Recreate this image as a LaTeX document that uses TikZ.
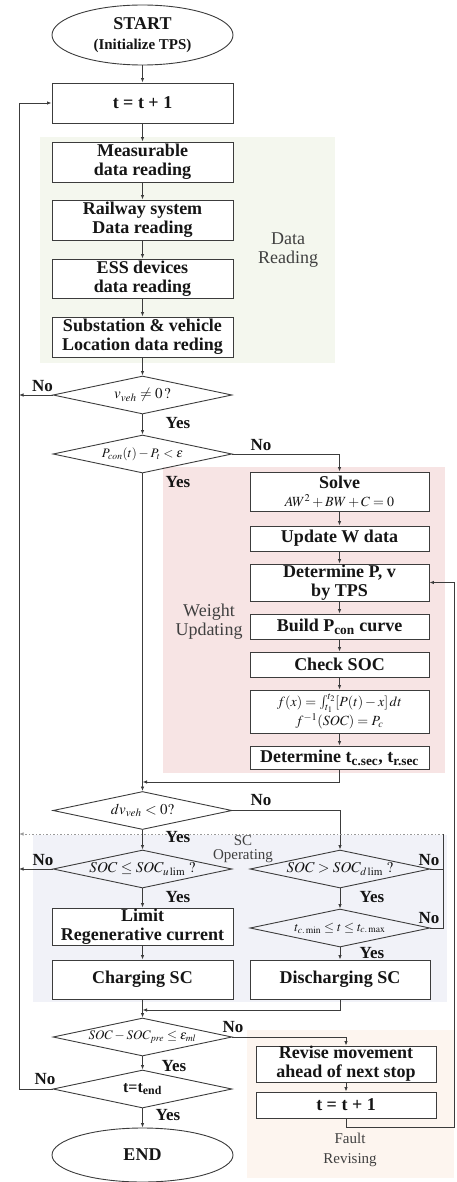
\documentclass[tikz,border=0pt]{standalone}
\usepackage{mathptmx}
\usepackage{fontspec}
\setmainfont{Liberation Serif}
\usetikzlibrary{shapes.geometric,arrows.meta,calc}
\definecolor{linec}{HTML}{3C3C3C}
\definecolor{txt}{HTML}{151515}
\definecolor{greenbg}{HTML}{F4F7EE}
\definecolor{pinkbg}{HTML}{F7E4E4}
\definecolor{lavbg}{HTML}{F1F2F8}
\definecolor{peachbg}{HTML}{FDF5EF}
\definecolor{grouptxt}{HTML}{404040}
\definecolor{dotc}{HTML}{9A9A9A}

\begin{document}
\begin{tikzpicture}[x=1pt,y=-1pt,
  box/.style={draw=linec, line width=0.9pt, fill=white, minimum width=181pt,
    inner sep=0pt, align=center, text=txt,
    font=\bfseries\fontsize{18}{19}\selectfont},
  rbox/.style={box, minimum width=179pt},
  term/.style={ellipse, draw=linec, line width=0.9pt, fill=white,
    minimum width=181pt, inner sep=0pt, align=center, text=txt},
  dec/.style={diamond, draw=linec, line width=0.9pt, aspect=4.7,
    minimum width=179pt, minimum height=38pt, inner sep=0pt, inner xsep=-10pt,
    text=txt, font=\fontsize{14}{16}\selectfont},
  flow/.style={draw=linec, line width=0.8pt, -{Latex[length=4.5pt,width=3.5pt]}},
  line/.style={draw=linec, line width=0.8pt},
  yn/.style={font=\bfseries\fontsize{17}{17}\selectfont, text=txt, inner sep=0pt},
  grp/.style={align=center, text=grouptxt, inner sep=0pt}
]
\useasboundingbox (0,0) rectangle (456,1182);

% shaded stage backgrounds
\fill[greenbg] (40,137) rectangle (335,363);
\fill[pinkbg] (163,467) rectangle (445,773);
\fill[lavbg] (33,835) rectangle (447,1002);
\fill[peachbg] (247,1030) rectangle (454,1178);

% stage captions
\node[grp, font=\fontsize{18}{19}\selectfont] (capdata) at (288,250) {Data\\Reading};
\node[grp, font=\fontsize{18}{19}\selectfont] (capweight) at (209,622) {Weight\\Updating};
\node[grp, font=\fontsize{15}{14}\selectfont] (capsc) at (243,849) {SC\\Operating};
\node[grp, font=\fontsize{15}{20}\selectfont] (capfault) at (350,1150) {Fault\\Revising};

% main column
\node[term, minimum height=60pt, font=\bfseries\fontsize{18}{20}\selectfont] (start) at (142.5,35)
  {START\\{\fontsize{15}{20}\selectfont (Initialize TPS)}};
\node[box, minimum height=40pt] (t1) at (142.5,103) {t = t + 1};
\node[box, minimum height=40pt] (meas) at (142.5,162) {Measurable\\data reading};
\node[box, minimum height=40pt] (rail) at (142.5,220) {Railway system\\Data reading};
\node[box, minimum height=39pt] (ess) at (142.5,278.5) {ESS devices\\data reading};
\node[box, minimum height=40pt] (sub) at (142.5,337) {Substation \& vehicle\\Location data reding};
\node[dec, font=\fontsize{15}{17}\selectfont] (d1) at (142.5,395) {$v_{veh}\neq 0\,?$};
\node[dec, font=\fontsize{13}{15}\selectfont] (d2) at (142.5,454) {$P_{con}(t)-P_t<\varepsilon$};

% weight updating column
\node[rbox, minimum height=39pt] (solve) at (339.5,491.5)
  {Solve\\[-1pt]{\normalfont\fontsize{14}{15}\selectfont $AW^{2}+BW+C=0$}};
\node[rbox, minimum height=25pt] (updw) at (339.5,538.5) {Update W data};
\node[rbox, minimum height=37pt] (detpv) at (339.5,582.5) {Determine P, v\\by TPS};
\node[rbox, minimum height=25pt] (build) at (339.5,626.5) {Build P\textsubscript{con} curve};
\node[rbox, minimum height=25pt] (check) at (339.5,664.5) {Check SOC};
\node[rbox, minimum height=43pt, font=\fontsize{14}{19}\selectfont] (fx) at (339.5,711.5)
  {$f(x)=\int_{t_1}^{t_2}[P(t)-x]\,dt$\\$f^{-1}(SOC)=P_c$};
\node[rbox, minimum height=23pt] (dett) at (339.5,757.5)
  {Determine t\textsubscript{c.sec}, t\textsubscript{r.sec}};

% SC operating
\node[dec, font=\fontsize{15}{17}\selectfont] (d3) at (142.5,810.5) {$dv_{veh}<0?$};
\node[dec, font=\fontsize{15}{17}\selectfont] (d4) at (142.5,869) {$SOC\le SOC_{u\,\mathrm{lim}}\ ?$};
\node[dec, minimum width=180pt, font=\fontsize{15}{17}\selectfont] (d5) at (340,869) {$SOC>SOC_{d\,\mathrm{lim}}\ ?$};
\node[box, minimum height=37pt] (limit) at (142.5,926.5) {Limit\\Regenerative current};
\node[box, minimum height=39pt] (charge) at (142.5,979.5) {Charging SC};
\node[dec, minimum width=180pt, font=\fontsize{13}{15}\selectfont] (d6) at (340,928)
  {$t_{c.\min}\le t\le t_{c.\max}$};
\node[box, minimum width=180pt, minimum height=39pt] (discharge) at (340,979.5) {Discharging SC};

% end checks
\node[dec, font=\fontsize{13}{15}\selectfont] (d7) at (142.5,1037) {$SOC-SOC_{pre}\le\varepsilon_{ml}$};
\node[dec, font=\bfseries\fontsize{16}{18}\selectfont] (d8) at (142.5,1089) {t=t\textsubscript{end}};
\node[term, minimum height=54pt, font=\bfseries\fontsize{18}{19}\selectfont] (endn) at (142.5,1155) {END};

% fault revising
\node[box, minimum width=180pt, minimum height=36pt] (revise) at (346,1064) {Revise movement\\ahead of next stop};
\node[box, minimum width=180pt, minimum height=26pt] (t2) at (346,1105) {t = t + 1};

% routing points
\coordinate (lp) at (19,1089);
\coordinate (j1) at (142.5,782);
\coordinate (j2) at (142.5,1010);
\coordinate (rtop) at (443,834);
\coordinate (rb) at (454.5,1127);

% connectors
\draw[flow] (start) -- (t1);
\draw[flow] (t1) -- (meas);
\draw[flow] (meas) -- (rail);
\draw[flow] (rail) -- (ess);
\draw[flow] (ess) -- (sub);
\draw[flow] (sub) -- (d1);
\draw[flow] (d1) -- (d2);
\draw[flow] (d1.west) -- (d1.west -| lp);
\draw[flow] (d2.east) -| (solve.north);
\draw[flow] (solve) -- (updw);
\draw[flow] (updw) -- (detpv);
\draw[flow] (detpv) -- (build);
\draw[flow] (build) -- (check);
\draw[flow] (check) -- (fx);
\draw[flow] (fx) -- (dett);
\draw[flow] (d2.south) -- (d3.north);
\draw[flow] (dett.south) |- (j1);
\draw[flow] (d3.east) -| (d5.north);
\draw[flow] (d3) -- (d4);
\draw[flow] (d4.west) -- (d4.west -| lp);
\draw[flow] (d4) -- (limit);
\draw[flow] (limit) -- (charge);
\draw[flow] (d5) -- (d6);
\draw[flow] (d6) -- (discharge);
\draw[line] (d5.east) -- (d5.east -| rtop);
\draw[line] (d6.east) -| (rtop);
\draw[draw=dotc, line width=0.8pt, dash pattern=on 1.5pt off 2pt,
  -{Latex[length=4.5pt,width=3.5pt]}] (rtop) -- (rtop -| lp);
\draw[flow] (charge.south) -- (d7.north);
\draw[flow] (discharge.south) |- (j2);
\draw[flow] (d7.east) -| (revise.north);
\draw[flow] (d7) -- (d8);
\draw[flow] (d8) -- (endn);
\draw[flow] (d8.west) -- (lp) |- (t1.west);
\draw[flow] (revise) -- (t2);
\draw[flow] (t2.south) |- (rb) |- (detpv.east);

% branch labels
\node[yn] (n1) at (42.5,386) {No};
\node[yn] (y1) at (178,423) {Yes};
\node[yn] (n2) at (261,445) {No};
\node[yn] (y2) at (178,482) {Yes};
\node[yn] (n3) at (261,800) {No};
\node[yn] (y3) at (178,837) {Yes};
\node[yn] (n4) at (43,860) {No};
\node[yn] (y4) at (178,897) {Yes};
\node[yn] (n5) at (429,860) {No};
\node[yn] (y5) at (372,897) {Yes};
\node[yn] (n6) at (429,918) {No};
\node[yn] (y6) at (372,953) {Yes};
\node[yn] (n7) at (233,1027) {No};
\node[yn] (y7) at (174,1066) {Yes};
\node[yn] (n8) at (45,1079) {No};
\node[yn] (y8) at (168,1115) {Yes};
\end{tikzpicture}
\end{document}
